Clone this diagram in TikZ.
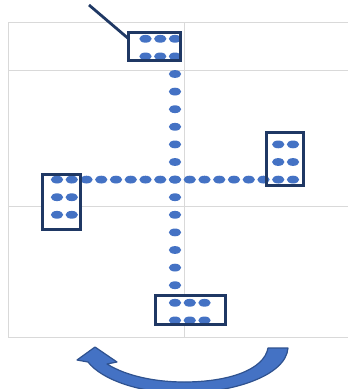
\documentclass[tikz,border=0pt]{standalone}
\usetikzlibrary{calc}
\definecolor{dotblue}{HTML}{4472C4}
\definecolor{navy}{HTML}{1F3864}
\definecolor{gridgray}{HTML}{D9D9D9}
\definecolor{arrowedge}{HTML}{2F528F}
\begin{document}
\begin{tikzpicture}[x=1pt,y=-1pt,
  gridline/.style={gridgray,line width=1.2pt},
  boxbase/.style={rectangle,fill=white,draw=none,inner sep=0pt},
  frame/.style={navy,line width=3pt},
  pt/.style={fill=dotblue,draw=none},
  leader/.style={navy,line width=2.8pt},
  bigarrow/.style={fill=dotblue,draw=arrowedge,line width=1.2pt,line join=round}]
\useasboundingbox (0,0) rectangle (348,389);
% chart frame and grid
\draw[gridline] (8.3,22.5) -- (348,22.5);
\draw[gridline] (8.3,70.5) -- (348,70.5);
\draw[gridline] (8.3,206.5) -- (348,206.5);
\draw[gridline] (8.3,337.7) -- (348,337.7);
\draw[gridline] (8.3,22.5) -- (8.3,337.7);
\draw[gridline] (184.3,22.5) -- (184.3,337.7);
% label boxes (backgrounds)
\node[boxbase,minimum width=51pt,minimum height=27.5pt] (topbox) at (154.5,46.3) {};
\node[boxbase,minimum width=37pt,minimum height=54pt] (leftbox) at (61.5,202) {};
\node[boxbase,minimum width=36pt,minimum height=52pt] (rightbox) at (285,159) {};
\node[boxbase,minimum width=69pt,minimum height=28pt] (bottombox) at (190.5,310) {};
% data points on a regular lattice
\newcommand{\dotat}[2]{\fill[pt] ({57+14.75*(#1)},{74+17.6*(#2)}) ellipse (6.2pt and 3.9pt);}
\foreach \i in {0,...,16} {\dotat{\i}{6}}
\foreach \k in {-2,...,14} {\dotat{8}{\k}}
\foreach \i in {6,7} \foreach \k in {-2,-1} {\dotat{\i}{\k}}
\foreach \i in {0,1} \foreach \k in {7,8} {\dotat{\i}{\k}}
\foreach \i in {15,16} \foreach \k in {4,5} {\dotat{\i}{\k}}
\foreach \i in {9,10} \foreach \k in {13,14} {\dotat{\i}{\k}}
% box outlines
\foreach \b in {topbox,leftbox,rightbox,bottombox}
  \draw[frame] (\b.south west) rectangle (\b.north east);
% leader line
\coordinate (lead) at (89,5);
\draw[leader] (lead) -- (topbox.164);
% curved return arrow
\path[bigarrow] (288,348)
  .. controls (286,376) and (232,393) .. (182,393)
  .. controls (140,393) and (102,380) .. (88,362)
  -- (77,360) -- (95,347) -- (117,362) -- (107,364)
  .. controls (128,377) and (158,382) .. (184,382)
  .. controls (228,382) and (264,370) .. (268,348) -- cycle;
\end{tikzpicture}
\end{document}
